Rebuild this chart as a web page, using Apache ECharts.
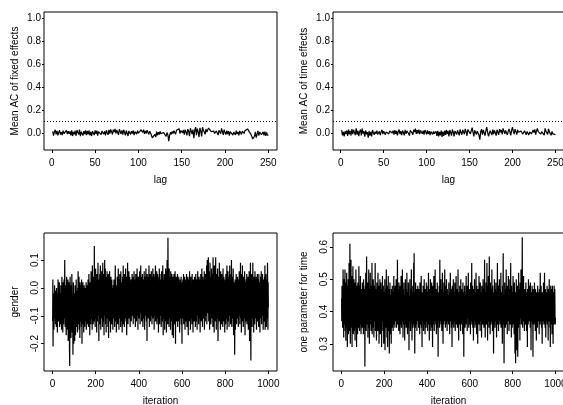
<!DOCTYPE html>
<html>
<head>
<meta charset="utf-8">
<script src="https://cdn.jsdelivr.net/npm/echarts@6/dist/echarts.min.js"></script>
<style>html,body{margin:0;padding:0;background:#fff}#c{width:563px;height:405px}</style>
</head>
<body>
<div id="c"></div>
<script>
// ---- tick labels ----
var lagTicks = [0, 50, 100, 150, 200, 250];
var acTicks = [0.0, 0.2, 0.4, 0.6, 0.8, 1.0];
var iterTicks = [0, 200, 400, 600, 800, 1000];
var genderTicks = [-0.2, -0.1, 0.0, 0.1];
var timeTicks = [0.3, 0.4, 0.5, 0.6];
var acThreshold = 0.1;

// ---- series values ----
// mean autocorrelation of fixed effects, lags 1..250
var acFixed = [
0.015,-0.022,0.010,0.028,-0.012,0.018,-0.020,0.006,0.024,-0.014,
0.008,-0.018,0.020,-0.004,0.012,-0.016,0.022,-0.010,0.016,-0.006,
0.014,-0.020,0.024,-0.026,0.010,-0.012,0.020,-0.024,0.026,0.040,
-0.014,0.030,-0.028,0.012,0.020,-0.022,0.016,-0.010,0.024,-0.018,
0.018,-0.012,0.022,-0.020,0.010,-0.026,0.016,0.004,-0.018,0.024,
-0.008,0.020,-0.022,0.012,-0.004,0.026,-0.014,0.018,0.030,-0.010,
0.014,-0.020,0.024,0.002,-0.016,0.028,-0.006,0.032,0.010,-0.012,
0.030,0.008,0.036,-0.004,0.026,0.012,-0.016,0.034,0.020,-0.008,
0.024,-0.014,0.028,0.006,-0.020,0.022,0.010,-0.026,0.018,0.030,
-0.012,0.016,-0.004,0.022,-0.018,0.012,0.026,-0.010,0.020,-0.002,
0.014,-0.016,0.028,0.040,0.006,0.030,-0.008,0.018,-0.004,0.024,
0.007,-0.011,0.016,0.003,-0.018,-0.042,-0.025,-0.050,-0.012,-0.035,
0.012,-0.020,0.008,-0.014,0.015,-0.006,0.010,-0.022,0.005,-0.010,
0.018,-0.030,0.004,-0.015,-0.072,-0.020,0.006,-0.012,0.014,-0.004,
0.020,0.008,-0.010,0.025,0.032,0.012,0.038,-0.006,0.022,0.010,
0.002,0.026,-0.014,0.030,0.008,-0.020,0.034,0.015,-0.028,0.042,
0.056,-0.010,0.030,-0.046,0.020,0.052,-0.018,0.038,0.010,-0.035,
0.045,0.018,-0.030,0.050,0.026,0.040,-0.012,0.035,0.008,0.022,
0.044,0.030,0.048,0.012,0.025,0.003,0.016,-0.004,0.010,0.018,
0.010,-0.018,0.024,0.036,-0.006,0.040,0.012,-0.016,0.030,0.004,
-0.014,0.020,-0.010,0.016,-0.022,0.012,-0.004,0.022,-0.018,0.008,
0.014,-0.016,0.020,-0.008,0.010,-0.020,0.018,0.002,-0.012,0.016,
0.024,-0.004,0.020,0.032,0.004,0.036,0.048,0.010,0.026,-0.012,
-0.030,-0.052,-0.065,-0.028,0.010,-0.040,-0.012,0.018,-0.022,0.008,
0.024,-0.015,-0.030,0.010,-0.020,0.012,-0.025,0.006,-0.018,-0.022
];
// mean autocorrelation of time effects, lags 1..250
var acTime = [
0.025,-0.020,0.010,-0.030,0.015,-0.008,0.022,-0.025,0.030,-0.012,
0.018,-0.022,0.035,-0.010,0.028,0.005,-0.018,0.040,-0.015,0.020,
-0.028,0.012,0.030,-0.020,0.038,-0.005,0.015,-0.032,0.024,-0.012,
0.008,-0.040,0.018,-0.022,0.010,-0.030,0.026,0.004,-0.015,0.012,
-0.006,0.020,-0.012,0.005,0.015,-0.018,0.008,0.028,-0.010,0.016,
0.002,-0.014,0.010,0.022,0.006,-0.008,0.018,0.034,0.012,0.000,
0.020,-0.014,0.026,-0.008,0.018,-0.020,0.012,0.030,-0.010,0.016,
-0.018,0.022,0.004,-0.020,0.028,-0.006,0.018,0.034,-0.004,-0.022,
0.024,0.036,0.002,-0.016,0.030,0.008,0.038,-0.008,0.026,-0.004,
0.030,-0.010,0.022,0.032,-0.006,0.020,-0.014,0.026,0.008,-0.012,
0.022,-0.008,0.016,-0.018,0.012,0.024,-0.012,0.014,-0.006,-0.020,
0.014,-0.024,0.018,-0.030,0.010,-0.020,0.022,-0.034,0.012,-0.026,
0.020,-0.016,0.028,-0.010,0.018,-0.030,0.026,0.004,-0.022,0.030,
0.010,-0.030,0.018,0.030,-0.012,0.024,0.008,-0.020,0.032,0.004,
-0.015,0.028,0.014,-0.010,0.036,0.012,-0.024,0.030,0.018,0.040,
-0.008,0.020,0.046,0.010,-0.030,0.024,0.038,-0.012,0.016,0.030,
-0.020,-0.058,0.012,0.034,-0.015,0.026,0.042,-0.022,0.018,0.052,
0.010,-0.028,-0.040,0.020,0.005,-0.018,0.030,-0.010,0.024,0.008,
-0.022,0.028,0.012,-0.015,0.034,0.006,0.026,-0.012,0.040,0.018,
-0.008,0.022,0.030,-0.016,0.014,0.036,0.010,-0.020,0.024,0.052,
0.012,-0.010,0.034,0.020,-0.014,0.028,0.006,0.016,-0.008,0.018,
0.018,-0.010,-0.022,0.020,0.004,-0.016,0.014,0.022,-0.018,0.010,
0.024,-0.008,-0.018,0.026,0.004,0.032,-0.014,0.018,0.040,0.012,
0.004,0.022,-0.010,0.012,0.028,0.008,-0.018,0.040,0.016,0.030,
-0.012,0.036,0.010,0.024,-0.020,0.014,-0.008,0.006,-0.024,-0.014
];
// trace of gender coefficient, iterations 1..1000
var genderTrace = [
-0.12,0.03,-0.21,-0.06,-0.10,-0.02,-0.15,-0.04,-0.08,0.01,-0.11,-0.03,-0.07,-0.13,-0.01,-0.09,-0.05,-0.14,0.00,-0.06,
-0.10,-0.03,-0.16,-0.02,-0.08,0.03,-0.12,-0.05,-0.01,-0.11,-0.07,0.02,-0.14,-0.04,-0.09,-0.02,-0.13,-0.06,0.01,-0.10,
-0.05,-0.15,-0.03,0.04,-0.08,-0.12,0.00,-0.16,-0.06,0.02,-0.09,-0.13,-0.04,0.03,-0.11,-0.07,0.10,-0.02,-0.14,-0.05,
-0.09,0.01,-0.12,-0.17,-0.03,0.04,-0.08,-0.15,-0.01,-0.11,-0.06,0.03,-0.19,-0.04,-0.10,0.02,-0.13,-0.07,-0.22,-0.28,
-0.07,0.04,-0.14,-0.02,-0.10,-0.18,0.01,-0.06,-0.12,0.05,-0.09,-0.16,-0.03,-0.11,-0.24,-0.05,0.02,-0.13,-0.20,-0.08,
-0.15,-0.02,-0.19,-0.07,0.01,-0.12,-0.17,-0.04,-0.10,0.03,-0.14,-0.06,-0.11,-0.01,-0.08,-0.16,0.00,-0.09,0.06,-0.13,
-0.05,-0.10,0.04,-0.15,-0.03,-0.08,-0.18,0.02,-0.06,-0.12,0.01,-0.09,-0.04,-0.14,0.03,-0.07,-0.20,-0.02,-0.11,-0.05,
0.02,-0.13,-0.08,-0.01,-0.16,-0.06,0.01,-0.10,-0.04,-0.14,0.00,-0.07,-0.12,-0.03,-0.09,0.02,-0.15,-0.05,-0.11,0.01,
-0.08,-0.13,-0.02,-0.06,0.03,-0.10,-0.14,-0.04,0.05,-0.08,-0.12,-0.01,-0.17,-0.05,0.02,-0.09,-0.13,-0.03,0.06,-0.07,
-0.11,0.01,-0.06,-0.15,0.08,-0.04,-0.10,0.02,-0.13,-0.07,0.04,-0.02,-0.12,0.15,-0.05,-0.09,0.03,-0.14,-0.01,0.07,
-0.06,-0.11,0.02,-0.08,-0.16,0.05,-0.03,-0.12,0.00,-0.07,0.09,-0.10,-0.04,0.03,-0.19,-0.06,0.01,-0.09,0.05,-0.13,
-0.02,0.08,-0.07,-0.15,0.04,-0.05,-0.11,0.06,-0.03,-0.09,0.02,-0.14,0.09,-0.06,-0.01,-0.12,0.05,-0.08,-0.17,0.03,
-0.04,0.10,-0.10,-0.02,0.07,-0.13,-0.05,0.04,-0.16,-0.07,0.02,-0.11,0.06,-0.03,-0.09,0.01,-0.14,-0.06,0.05,-0.18,
-0.04,0.03,-0.10,-0.02,0.06,-0.12,-0.07,0.02,-0.16,-0.05,0.04,-0.09,-0.01,-0.13,0.03,-0.06,-0.10,0.00,-0.08,-0.15,
-0.03,0.01,-0.11,-0.06,0.03,-0.09,-0.02,-0.14,0.02,-0.07,0.08,-0.04,-0.12,0.01,-0.08,-0.16,0.00,-0.05,-0.10,0.04,
-0.07,-0.13,0.02,-0.04,0.07,-0.10,-0.02,-0.15,0.03,-0.06,-0.11,0.05,-0.03,-0.09,0.01,-0.14,0.06,-0.05,-0.12,0.02,
-0.08,0.00,-0.16,-0.04,0.04,-0.10,-0.06,0.08,-0.13,-0.02,0.03,-0.08,-0.14,0.05,-0.05,-0.11,0.01,-0.07,0.07,-0.03,
-0.12,0.02,-0.09,-0.17,0.04,-0.05,-0.10,0.09,-0.02,-0.13,0.03,-0.07,-0.04,0.06,-0.11,-0.01,-0.08,0.04,-0.06,-0.14,
0.02,-0.04,-0.09,0.03,-0.12,-0.05,0.00,-0.08,0.05,-0.03,-0.10,0.01,-0.06,-0.13,0.04,-0.02,-0.09,0.06,-0.05,-0.11,
0.00,-0.07,0.03,-0.14,-0.03,0.05,-0.09,-0.01,-0.12,0.02,-0.06,0.07,-0.04,-0.10,0.01,-0.15,-0.02,0.04,-0.08,-0.05,
0.03,-0.11,-0.03,0.06,-0.07,-0.13,0.01,-0.05,0.08,-0.09,-0.02,0.04,-0.12,-0.06,0.02,-0.10,0.05,-0.04,-0.14,0.00,
-0.07,0.03,-0.11,-0.02,0.06,-0.08,-0.15,0.01,-0.05,0.04,-0.10,-0.03,0.07,-0.06,-0.12,0.02,-0.04,-0.19,0.05,-0.08,
-0.01,0.04,-0.11,-0.06,0.02,-0.09,0.08,-0.03,-0.14,0.01,-0.07,0.05,-0.05,-0.12,0.03,-0.02,-0.10,0.06,-0.08,0.00,
-0.13,0.04,-0.04,-0.09,0.07,-0.06,-0.11,0.02,-0.03,0.05,-0.15,-0.07,0.01,-0.10,0.04,-0.05,0.08,-0.12,-0.02,0.03,
-0.09,-0.04,0.06,-0.13,0.00,-0.07,0.05,-0.11,-0.03,0.02,-0.16,-0.06,0.04,-0.09,0.07,-0.01,-0.13,0.03,-0.05,-0.10,
0.01,-0.08,0.05,-0.14,-0.03,0.06,-0.10,-0.05,0.02,-0.12,0.08,-0.04,-0.17,0.03,-0.07,0.00,-0.11,0.05,-0.02,-0.15,
0.04,-0.06,-0.12,0.07,-0.03,-0.09,0.02,-0.16,0.06,-0.05,0.10,-0.08,0.03,-0.13,0.18,-0.02,-0.10,0.05,-0.06,-0.14,
0.07,-0.03,-0.11,0.04,-0.07,0.01,-0.15,0.06,-0.04,-0.09,0.03,-0.12,0.05,-0.01,-0.17,0.02,-0.06,0.04,-0.10,-0.18,
0.00,-0.07,0.05,-0.13,-0.03,0.02,-0.09,0.06,-0.05,-0.20,0.01,-0.08,0.04,-0.12,-0.02,0.03,-0.10,-0.06,0.05,-0.14,
-0.01,0.02,-0.09,-0.05,0.04,-0.12,-0.03,0.01,-0.16,-0.07,0.03,-0.04,-0.11,0.00,-0.06,0.04,-0.13,-0.02,-0.08,-0.20,
0.02,-0.05,-0.11,0.03,-0.08,-0.02,0.05,-0.13,-0.06,0.01,-0.10,0.04,-0.04,-0.15,0.02,-0.07,-0.12,0.03,-0.03,-0.09,
0.05,-0.06,-0.14,0.01,-0.04,-0.10,0.04,-0.02,-0.17,0.00,-0.08,0.03,-0.12,-0.05,0.06,-0.03,-0.09,0.02,-0.15,-0.06,
0.04,-0.11,-0.02,0.01,-0.07,-0.13,0.05,-0.04,-0.09,0.02,-0.16,-0.06,0.03,-0.10,0.00,-0.05,-0.12,0.04,-0.03,-0.08,
0.01,-0.14,-0.05,0.05,-0.09,-0.02,-0.12,0.03,-0.07,-0.15,0.02,-0.04,0.06,-0.10,-0.06,0.01,-0.13,-0.03,0.04,-0.08,
-0.11,0.03,-0.05,-0.16,0.02,-0.08,0.05,-0.03,-0.12,0.01,-0.06,0.07,-0.10,-0.02,-0.14,0.04,-0.07,0.00,-0.11,0.03,
-0.04,-0.09,0.06,-0.15,-0.02,0.03,-0.08,-0.12,0.05,-0.05,0.02,-0.10,-0.03,0.08,-0.13,-0.06,0.10,-0.01,-0.09,0.04,
-0.07,0.11,-0.04,-0.12,0.03,-0.08,0.06,-0.15,-0.02,0.09,-0.10,-0.05,0.04,-0.13,0.01,-0.06,0.07,-0.11,-0.03,0.05,
-0.09,0.02,-0.14,0.11,-0.05,-0.10,0.04,-0.02,-0.16,0.08,-0.07,0.01,-0.12,0.06,-0.04,0.11,-0.09,-0.01,-0.15,0.03,
-0.06,0.05,-0.11,-0.03,0.07,-0.13,-0.19,0.02,-0.08,0.04,-0.05,-0.12,0.09,-0.02,-0.10,0.03,-0.07,-0.15,0.06,-0.04,
-0.09,0.01,-0.13,0.05,-0.06,-0.11,0.03,-0.03,-0.14,0.07,-0.08,0.00,-0.12,0.04,-0.05,-0.10,0.02,-0.16,-0.04,0.03,
-0.08,-0.13,0.05,-0.06,0.01,-0.11,-0.03,0.08,-0.15,-0.05,0.02,-0.09,0.06,-0.02,-0.12,0.04,-0.07,-0.14,0.03,-0.04,
0.08,-0.10,-0.06,0.02,-0.13,-0.03,0.05,-0.09,0.10,-0.05,-0.14,0.01,-0.08,0.04,-0.11,-0.02,0.07,-0.07,-0.17,0.02,
-0.05,-0.12,0.00,-0.24,-0.08,0.03,-0.15,-0.04,0.01,-0.10,0.05,-0.06,-0.13,0.02,-0.09,-0.03,0.04,-0.11,-0.07,0.00,
-0.14,0.03,-0.05,-0.10,0.06,-0.08,-0.02,-0.13,0.04,-0.06,0.09,-0.11,-0.04,0.02,-0.16,-0.07,0.05,-0.03,-0.12,0.08,
-0.09,0.00,-0.05,-0.14,0.04,-0.07,0.01,-0.11,-0.03,0.06,-0.10,-0.17,0.02,-0.06,-0.01,-0.12,0.03,-0.08,-0.04,0.05,
-0.13,-0.02,0.02,-0.09,-0.05,0.04,-0.15,-0.07,0.01,-0.11,0.06,-0.03,-0.19,0.03,-0.08,-0.04,0.09,-0.12,-0.26,0.02,
-0.06,0.05,-0.10,-0.02,-0.14,0.03,-0.07,0.09,-0.11,-0.04,0.01,-0.16,-0.05,0.04,-0.09,-0.01,-0.13,0.06,-0.07,-0.03,
0.02,-0.11,-0.05,0.04,-0.15,-0.08,0.01,-0.04,0.05,-0.12,-0.06,0.03,-0.09,0.00,-0.14,0.05,-0.03,-0.10,0.02,-0.07,
-0.16,0.01,-0.05,0.04,-0.11,-0.02,0.06,-0.08,-0.13,0.03,-0.04,-0.10,0.05,-0.06,0.01,-0.15,-0.03,0.03,-0.09,0.00,
-0.12,0.04,-0.06,0.08,-0.15,-0.03,0.02,-0.10,0.05,-0.07,-0.14,0.01,-0.05,0.03,-0.11,0.09,-0.04,-0.15,0.02,-0.07
];
// trace of the single time parameter, iterations 1..1000
var timeTrace = [
0.44,0.37,0.48,0.40,0.46,0.35,0.42,0.53,0.38,0.45,0.32,0.50,0.41,0.36,0.47,0.39,0.53,0.34,0.44,0.40,
0.31,0.49,0.43,0.37,0.52,0.35,0.45,0.29,0.41,0.48,0.36,0.50,0.33,0.44,0.39,0.55,0.34,0.46,0.40,0.61,
0.37,0.30,0.47,0.42,0.56,0.35,0.45,0.38,0.51,0.29,0.43,0.48,0.36,0.54,0.40,0.33,0.46,0.41,0.50,0.34,
0.44,0.37,0.49,0.31,0.42,0.47,0.35,0.53,0.39,0.45,0.29,0.41,0.48,0.36,0.44,0.33,0.49,0.40,0.46,0.35,
0.42,0.54,0.37,0.45,0.34,0.40,0.48,0.36,0.51,0.39,0.44,0.33,0.47,0.41,0.38,0.45,0.35,0.49,0.42,0.36,
0.46,0.40,0.33,0.50,0.38,0.44,0.35,0.47,0.41,0.23,0.43,0.48,0.37,0.52,0.39,0.34,0.45,0.57,0.40,0.36,
0.44,0.38,0.49,0.32,0.46,0.41,0.35,0.53,0.39,0.43,0.30,0.47,0.37,0.44,0.52,0.36,0.42,0.48,0.34,0.40,
0.45,0.38,0.55,0.33,0.43,0.47,0.36,0.41,0.50,0.35,0.44,0.32,0.48,0.39,0.46,0.37,0.42,0.55,0.34,0.40,
0.47,0.38,0.44,0.31,0.43,0.49,0.36,0.41,0.45,0.34,0.52,0.39,0.44,0.37,0.48,0.30,0.42,0.46,0.35,0.50,
0.40,0.33,0.45,0.38,0.49,0.36,0.43,0.29,0.47,0.41,0.37,0.51,0.39,0.44,0.34,0.48,0.40,0.30,0.46,0.38,
0.43,0.36,0.50,0.28,0.42,0.47,0.35,0.44,0.39,0.53,0.37,0.41,0.32,0.48,0.40,0.29,0.45,0.38,0.51,0.34,
0.43,0.39,0.47,0.27,0.41,0.36,0.49,0.40,0.33,0.45,0.38,0.42,0.30,0.47,0.39,0.44,0.35,0.48,0.41,0.37,
0.46,0.34,0.43,0.40,0.51,0.36,0.45,0.39,0.42,0.35,0.48,0.38,0.44,0.41,0.37,0.50,0.40,0.35,0.46,0.42,
0.38,0.56,0.41,0.36,0.47,0.39,0.43,0.34,0.49,0.40,0.37,0.45,0.42,0.33,0.48,0.39,0.44,0.36,0.51,0.40,
0.35,0.46,0.41,0.38,0.53,0.37,0.43,0.32,0.47,0.40,0.36,0.49,0.42,0.38,0.45,0.31,0.44,0.39,0.50,0.36,
0.42,0.47,0.35,0.44,0.39,0.52,0.37,0.41,0.33,0.46,0.40,0.38,0.49,0.35,0.43,0.28,0.45,0.41,0.37,0.50,
0.39,0.44,0.34,0.47,0.40,0.36,0.53,0.38,0.42,0.31,0.46,0.41,0.37,0.48,0.35,0.43,0.40,0.55,0.36,0.58,
0.38,0.44,0.27,0.46,0.40,0.35,0.49,0.39,0.43,0.36,0.47,0.41,0.34,0.45,0.38,0.42,0.48,0.37,0.44,0.40,
0.35,0.47,0.41,0.38,0.44,0.33,0.49,0.40,0.36,0.46,0.42,0.38,0.51,0.35,0.43,0.40,0.29,0.46,0.39,0.44,
0.37,0.48,0.41,0.34,0.45,0.39,0.50,0.36,0.43,0.40,0.33,0.47,0.38,0.44,0.41,0.35,0.49,0.39,0.42,0.37,
0.46,0.40,0.34,0.48,0.38,0.43,0.52,0.36,0.41,0.45,0.31,0.47,0.39,0.44,0.36,0.50,0.40,0.34,0.46,0.42,
0.37,0.49,0.41,0.35,0.45,0.29,0.43,0.48,0.38,0.42,0.36,0.51,0.40,0.34,0.46,0.41,0.37,0.53,0.39,0.44,
0.36,0.47,0.42,0.33,0.45,0.40,0.38,0.49,0.35,0.43,0.41,0.26,0.46,0.39,0.44,0.37,0.48,0.42,0.35,0.56,
0.40,0.45,0.37,0.43,0.50,0.36,0.41,0.47,0.34,0.44,0.39,0.52,0.38,0.42,0.30,0.46,0.40,0.36,0.49,0.41,
0.37,0.45,0.53,0.39,0.43,0.35,0.48,0.40,0.44,0.36,0.50,0.38,0.42,0.34,0.47,0.41,0.37,0.45,0.40,0.43,
0.36,0.49,0.41,0.38,0.46,0.33,0.44,0.40,0.52,0.37,0.43,0.39,0.47,0.35,0.41,0.45,0.29,0.48,0.40,0.36,
0.44,0.38,0.50,0.41,0.35,0.46,0.39,0.43,0.37,0.49,0.40,0.34,0.45,0.42,0.38,0.51,0.36,0.44,0.41,0.39,
0.47,0.35,0.43,0.40,0.53,0.37,0.42,0.31,0.46,0.39,0.44,0.36,0.48,0.41,0.38,0.45,0.34,0.50,0.40,0.37,
0.43,0.47,0.36,0.41,0.45,0.39,0.33,0.49,0.42,0.38,0.44,0.26,0.46,0.40,0.37,0.48,0.41,0.35,0.45,0.39,
0.43,0.36,0.51,0.40,0.37,0.46,0.42,0.34,0.48,0.39,0.44,0.38,0.52,0.41,0.35,0.45,0.40,0.36,0.47,0.42,
0.38,0.44,0.33,0.49,0.41,0.37,0.46,0.40,0.55,0.36,0.43,0.39,0.48,0.35,0.42,0.45,0.31,0.47,0.40,0.44,
0.37,0.50,0.41,0.35,0.46,0.39,0.43,0.36,0.52,0.40,0.44,0.33,0.48,0.41,0.38,0.45,0.30,0.47,0.42,0.39,
0.46,0.36,0.51,0.40,0.37,0.44,0.41,0.34,0.49,0.39,0.43,0.46,0.37,0.42,0.32,0.48,0.40,0.45,0.38,0.43,
0.36,0.50,0.41,0.39,0.47,0.35,0.44,0.40,0.56,0.37,0.42,0.32,0.46,0.41,0.38,0.49,0.36,0.44,0.40,0.55,
0.39,0.45,0.31,0.48,0.42,0.37,0.51,0.40,0.44,0.35,0.57,0.41,0.38,0.46,0.33,0.49,0.40,0.43,0.36,0.47,
0.42,0.39,0.53,0.37,0.44,0.34,0.48,0.40,0.45,0.38,0.27,0.46,0.41,0.36,0.50,0.39,0.43,0.35,0.47,0.41,
0.37,0.49,0.40,0.44,0.32,0.46,0.39,0.42,0.55,0.36,0.43,0.40,0.48,0.34,0.45,0.41,0.37,0.50,0.39,0.44,
0.36,0.47,0.41,0.38,0.52,0.35,0.44,0.40,0.46,0.37,0.42,0.30,0.48,0.39,0.43,0.58,0.36,0.45,0.40,0.24,
0.42,0.37,0.49,0.40,0.44,0.35,0.47,0.41,0.38,0.53,0.36,0.43,0.39,0.46,0.33,0.48,0.40,0.44,0.37,0.51,
0.39,0.45,0.34,0.47,0.41,0.38,0.50,0.36,0.43,0.40,0.55,0.37,0.44,0.32,0.48,0.40,0.45,0.35,0.42,0.46,
0.38,0.51,0.40,0.36,0.47,0.41,0.33,0.49,0.39,0.44,0.27,0.46,0.38,0.24,0.43,0.40,0.50,0.36,0.28,0.45,
0.41,0.37,0.48,0.26,0.44,0.40,0.35,0.52,0.39,0.43,0.47,0.36,0.42,0.31,0.49,0.40,0.45,0.38,0.53,0.41,
0.36,0.46,0.40,0.44,0.63,0.39,0.35,0.48,0.42,0.38,0.51,0.37,0.44,0.40,0.34,0.47,0.41,0.39,0.45,0.36,
0.43,0.49,0.38,0.41,0.34,0.46,0.40,0.44,0.29,0.47,0.39,0.42,0.36,0.50,0.40,0.44,0.37,0.48,0.41,0.38,
0.45,0.35,0.49,0.40,0.43,0.28,0.46,0.39,0.42,0.37,0.48,0.41,0.36,0.44,0.26,0.47,0.40,0.38,0.45,0.42,
0.36,0.49,0.41,0.39,0.44,0.34,0.47,0.40,0.37,0.43,0.31,0.46,0.41,0.38,0.45,0.35,0.48,0.40,0.43,0.37,
0.46,0.39,0.42,0.33,0.47,0.40,0.44,0.36,0.52,0.39,0.43,0.37,0.48,0.41,0.35,0.45,0.40,0.30,0.46,0.42,
0.38,0.44,0.37,0.49,0.41,0.36,0.45,0.40,0.52,0.38,0.43,0.35,0.47,0.40,0.32,0.46,0.41,0.37,0.44,0.39,
0.48,0.36,0.42,0.40,0.45,0.31,0.47,0.39,0.43,0.37,0.50,0.40,0.44,0.35,0.46,0.29,0.42,0.48,0.38,0.44,
0.40,0.36,0.47,0.33,0.43,0.48,0.39,0.41,0.30,0.46,0.40,0.44,0.37,0.48,0.36,0.42,0.47,0.39,0.36,0.38
];

// ---- build chart ----
var FONT = 'Liberation Sans, Arial, Helvetica, sans-serif';
function pairs(arr) { return arr.map(function (v, i) { return [i + 1, v]; }); }
function fmt1(v) { return v.toFixed(1); }
function fmtInt(v) { return String(Math.round(v)); }

function xAxisCfg(grid, min, max, ticks, name) {
  return {
    gridIndex: grid, type: 'value', min: min, max: max,
    axisLine: { show: false, onZero: false },
    splitLine: { show: false },
    axisTick: { show: true, length: 3, customValues: ticks, lineStyle: { color: '#000', width: 1 } },
    axisLabel: { customValues: ticks, formatter: fmtInt, margin: 8, fontSize: 10, color: '#000', fontFamily: FONT },
    name: name, nameLocation: 'middle', nameGap: 25,
    nameTextStyle: { fontSize: 10, color: '#000', fontFamily: FONT }
  };
}
function yAxisCfg(grid, min, max, ticks, name, rotated) {
  return {
    gridIndex: grid, type: 'value', min: min, max: max,
    axisLine: { show: false, onZero: false },
    splitLine: { show: false },
    axisTick: { show: true, length: rotated ? 3 : 2, customValues: ticks, lineStyle: { color: '#000', width: 1 } },
    axisLabel: { customValues: ticks, formatter: fmt1, margin: rotated ? 4 : 3, rotate: rotated ? 90 : 0,
      fontSize: 10, color: '#000', fontFamily: FONT },
    name: name, nameLocation: 'middle', nameGap: 24,
    nameTextStyle: { fontSize: 10, color: '#000', fontFamily: FONT }
  };
}
function gridCfg(left, top, width) {
  return { left: left, top: top, width: width, height: 138, show: true, borderColor: '#000', borderWidth: 1,
    backgroundColor: 'transparent', containLabel: false, outerBoundsMode: 'none' };
}
function lineSeries(idx, arr, withRef, w) {
  var s = {
    type: 'line', xAxisIndex: idx, yAxisIndex: idx, data: pairs(arr),
    showSymbol: false, symbol: 'none', smooth: false, sampling: null,
    lineStyle: { color: '#000', width: w }, silent: true, animation: false
  };
  if (withRef) {
    s.markLine = { silent: true, symbol: 'none', label: { show: false }, animation: false,
      lineStyle: { color: '#000', width: 1, type: [1, 2] }, data: [{ yAxis: acThreshold }] };
  }
  return s;
}

var chart = echarts.init(document.getElementById('c'), null, { renderer: 'canvas' });
chart.setOption({
  animation: false,
  backgroundColor: '#fff',
  textStyle: { fontFamily: FONT },
  grid: [gridCfg(44, 12, 233), gridCfg(333, 12, 231), gridCfg(44, 233, 233), gridCfg(333, 233, 231)],
  xAxis: [
    xAxisCfg(0, -9, 260, lagTicks, 'lag'),
    xAxisCfg(1, -9, 260, lagTicks, 'lag'),
    xAxisCfg(2, -39, 1040, iterTicks, 'iteration'),
    xAxisCfg(3, -39, 1040, iterTicks, 'iteration')
  ],
  yAxis: [
    yAxisCfg(0, -0.148, 1.055, acTicks, 'Mean AC of fixed effects', false),
    yAxisCfg(1, -0.148, 1.055, acTicks, 'Mean AC of time effects', false),
    yAxisCfg(2, -0.298, 0.197, genderTicks, 'gender', true),
    yAxisCfg(3, 0.216, 0.643, timeTicks, 'one parameter for time', true)
  ],
  series: [
    lineSeries(0, acFixed, true, 1.2),
    lineSeries(1, acTime, true, 1.2),
    lineSeries(2, genderTrace, false, 1.2),
    lineSeries(3, timeTrace, false, 1.2)
  ]
});
</script>
</body>
</html>
